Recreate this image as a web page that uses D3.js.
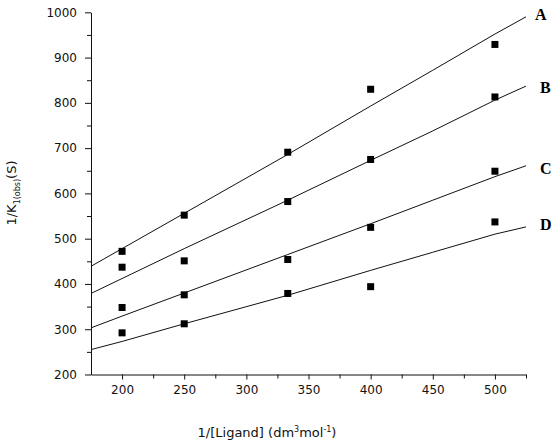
<!DOCTYPE html>
<html><head><meta charset="utf-8">
<script src="https://cdn.jsdelivr.net/npm/d3@7"></script>
<style>body{margin:0;background:#fff}svg{display:block}</style>
</head><body>
<svg id="c" width="560" height="442"></svg>
<script>
const xPoints = [200, 250, 333.3, 400, 500];
const seriesNames = ["A", "B", "C", "D"];
const pointsA = [472, 552, 691, 830, 929];
const pointsB = [437, 451, 582, 675, 813];
const pointsC = [348, 376, 454, 525, 649];
const pointsD = [292, 312, 379, 394, 537];
const fitX = [175, 200, 250, 333.3, 400, 450, 500, 525];
const fitA = [439, 478, 556, 686, 793, 872, 952, 990];
const fitB = [379, 412, 478, 585, 673, 738, 806, 837];
const fitC = [303, 329, 380, 465, 533, 585, 637, 661];
const fitD = [255, 273, 312, 375, 430, 470, 510, 526];
const xTicks = [200, 250, 300, 350, 400, 450, 500];
const xMinor = [225, 275, 325, 375, 425, 475, 525];
const yTicks = [200, 300, 400, 500, 600, 700, 800, 900, 1000];
const yMinor = [250, 350, 450, 550, 650, 750, 850, 950];

const points = [pointsA, pointsB, pointsC, pointsD];
const fits = [fitA, fitB, fitC, fitD];

const svg = d3.select("#c");
const x = d3.scaleLinear().domain([175, 525]).range([91, 526]);
const y = d3.scaleLinear().domain([200, 1000]).range([374.5, 12.3]);
const font = "'DejaVu Sans', sans-serif";

// axes
svg.append("g").attr("transform", `translate(0,${y(200)})`)
  .call(d3.axisBottom(x).tickValues(xTicks).tickFormat(d3.format("d")).tickSize(5).tickPadding(6).tickSizeOuter(0));
svg.append("g").attr("transform", `translate(0,${y(200)})`)
  .call(d3.axisBottom(x).tickValues(xMinor).tickSize(4).tickFormat("").tickSizeOuter(0))
  .select(".domain").remove();
svg.append("g").attr("transform", `translate(${x(175)},0)`)
  .call(d3.axisLeft(y).tickValues(yTicks).tickFormat(d3.format("d")).tickSize(6).tickPadding(8).tickSizeOuter(0));
svg.append("g").attr("transform", `translate(${x(175)},0)`)
  .call(d3.axisLeft(y).tickValues(yMinor).tickSize(4).tickFormat("").tickSizeOuter(0))
  .select(".domain").remove();
svg.selectAll(".tick text").attr("font-family", font).attr("font-size", 12).attr("fill", "#111");
svg.selectAll(".domain, .tick line").attr("stroke", "#111");

// fit lines
const line = d3.line().x((d, i) => x(fitX[i])).y(d => y(d));
fits.forEach(f => {
  svg.append("path").attr("d", line(f)).attr("fill", "none")
    .attr("stroke", "#111").attr("stroke-width", 1);
});

// points
points.forEach(p => {
  svg.append("g").selectAll("rect").data(p).join("rect")
    .attr("x", (d, i) => x(xPoints[i]) - 3.5)
    .attr("y", d => y(d) - 3.5)
    .attr("width", 7).attr("height", 7).attr("fill", "#000");
});

// series labels
const labelX = [535, 540, 540, 540];
const labelY = [20, 93, 174, 230];
seriesNames.forEach((n, i) => {
  svg.append("text").attr("x", labelX[i]).attr("y", labelY[i])
    .attr("font-family", "'Liberation Serif', 'Times New Roman', serif")
    .attr("font-weight", "bold").attr("font-size", 16).text(n);
});

// x label
const xl = svg.append("text").attr("x", 267).attr("y", 437).attr("text-anchor", "middle")
  .attr("font-family", font).attr("font-size", 13).attr("fill", "#111");
xl.append("tspan").text("1/[Ligand] (dm");
xl.append("tspan").attr("dy", -5).attr("font-size", 8).text("3");
xl.append("tspan").attr("dy", 5).text("mol");
xl.append("tspan").attr("dy", -5).attr("font-size", 8).text("-1");
xl.append("tspan").attr("dy", 5).text(")");

// y label
const yl = svg.append("text").attr("transform", "translate(16,193) rotate(-90)")
  .attr("text-anchor", "middle").attr("font-family", font).attr("font-size", 13).attr("fill", "#111");
yl.append("tspan").text("1/K");
yl.append("tspan").attr("dy", 4).attr("font-size", 8).text("1(obs)");
yl.append("tspan").attr("dy", -4).text("(S)");
</script>
</body></html>
